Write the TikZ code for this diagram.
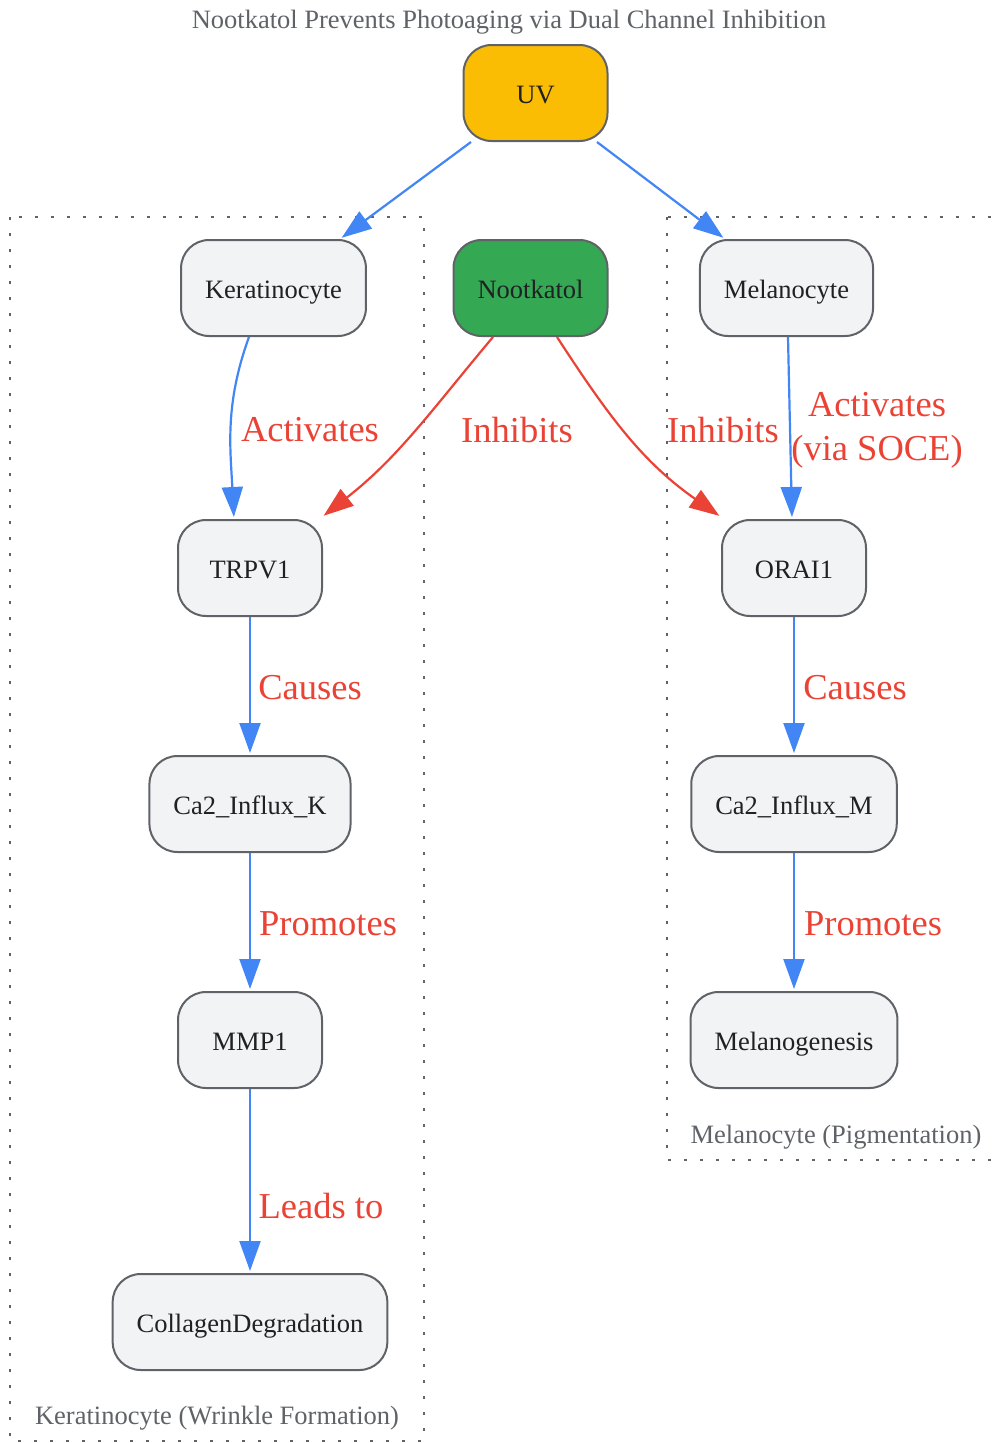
\documentclass[tikz,border=0pt]{standalone}
\usepackage{fontspec}
\setmainfont{Liberation Serif}
\usepackage{tikz}
\usetikzlibrary{arrows.meta,positioning}
\definecolor{uvyellow}{HTML}{FBBC04}
\definecolor{nootgreen}{HTML}{34A853}
\definecolor{nodefill}{HTML}{F1F3F4}
\definecolor{nodeline}{HTML}{5F6368}
\definecolor{flowblue}{HTML}{4285F4}
\definecolor{inhred}{HTML}{EA4335}
\definecolor{inktext}{HTML}{202124}

\begin{document}
\begin{tikzpicture}[x=1pt,y=-1pt,
	flow/.style={draw=flowblue,line width=2.2pt,shorten >=2pt,-{Triangle[length=30pt,width=21pt]}},
	inhibit/.style={draw=inhred,line width=2.2pt,shorten >=2pt,-{Triangle[length=30pt,width=21pt]}},
	elabel/.style={text=inhred,font=\fontsize{36.5}{44}\selectfont,align=center,inner sep=0pt},
	cluster/.style={draw=nodeline,line width=2.6pt,dash pattern=on 2.6pt off 13.4pt},
	clabel/.style={text=nodeline,font=\fontsize{26.5}{30}\selectfont,inner sep=0pt}]
	\useasboundingbox (0,0) rectangle (998,1443);
	% subgraph frames
	\draw[cluster] (10,217) rectangle (424,1441);
	\draw[cluster] (667,217) rectangle (1006,1160);
	\node[clabel] (title) at (509,22) {Nootkatol Prevents Photoaging via Dual Channel Inhibition};
	\node[clabel] (kgroup) at (217,1418) {Keratinocyte (Wrinkle Formation)};
	\node[clabel] (mgroup) at (836,1137) {Melanocyte (Pigmentation)};
	\begin{scope}[every node/.style={draw=nodeline,line width=2pt,fill=nodefill,rounded corners=28pt,minimum height=96pt,minimum width=144pt,inner xsep=24pt,inner ysep=0pt,text height=25pt,text depth=3.5pt,text=inktext,font=\fontsize{26.5}{30}\selectfont}]
		\node[fill=uvyellow] (uv) at (535.5,93) {UV};
		\node (kera) at (273.5,288) {Keratinocyte};
		\node[fill=nootgreen] (noot) at (530.5,288) {Nootkatol};
		\node (mela) at (786.5,288) {Melanocyte};
		\node (trpv1) at (250,568) {TRPV1};
		\node (orai1) at (794,568) {ORAI1};
		\node (cak) at (250,804) {Ca2\_Influx\_K};
		\node (cam) at (794,804) {Ca2\_Influx\_M};
		\node (mmp1) at (250,1040) {MMP1};
		\node (melgen) at (794,1040) {Melanogenesis};
		\node (coll) at (250,1322) {CollagenDegradation};
	\end{scope}
	\begin{scope}
		\draw[flow] ([xshift=-64.5pt]uv.south) -- ([xshift=66.5pt]kera.north);
		\draw[flow] ([xshift=61.5pt]uv.south) -- ([xshift=-61.5pt]mela.north);
		\draw[flow] ([xshift=-24.5pt]kera.south) to[out=-110,in=93] ([xshift=-16pt]trpv1.north);
		\draw[inhibit] ([xshift=-37.5pt]noot.south) to[out=-130,in=38] ([xshift=72pt,yshift=2pt]trpv1.north);
		\draw[inhibit] ([xshift=26.5pt]noot.south) to[out=-57,in=145] ([xshift=-73pt,yshift=2pt]orai1.north);
		\draw[flow] ([xshift=1.5pt]mela.south) -- ([xshift=-2pt]orai1.north);
		\draw[flow] (trpv1) -- (cak);
		\draw[flow] (orai1) -- (cam);
		\draw[flow] (cak) -- (mmp1);
		\draw[flow] (cam) -- (melgen);
		\draw[flow] (mmp1) -- (coll);
	\end{scope}
	\begin{scope}[every node/.style={elabel}]
		\node (lactk) at (310,430) {Activates};
		\node (linhk) at (517,430) {Inhibits};
		\node (linhm) at (723,430) {Inhibits};
		\node (lactm) at (877,430) {Activates\\(via SOCE)};
		\node (lcauk) at (310,688) {Causes};
		\node (lcaum) at (855,688) {Causes};
		\node (lpromk) at (328,924) {Promotes};
		\node (lpromm) at (873,924) {Promotes};
		\node (llead) at (321,1206) {Leads to};
	\end{scope}
\end{tikzpicture}
\end{document}
